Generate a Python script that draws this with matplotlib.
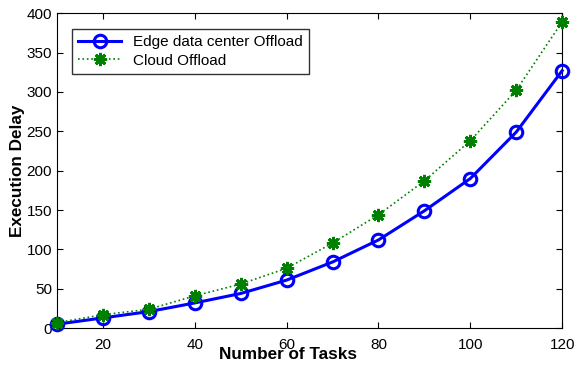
import numpy as np
import matplotlib
matplotlib.use("Agg")
from matplotlib import pyplot as plt

plt.rcParams['font.family'] = ['Liberation Sans', 'DejaVu Sans']

tasks = [10, 20, 30, 40, 50, 60, 70, 80, 90, 100, 110, 120]
edge = [5, 13, 21, 32, 44, 61, 84, 112, 149, 190, 249, 327]
cloud = [7, 17, 24, 41, 56, 76, 108, 144, 187, 238, 302, 389]

fig = plt.figure(figsize=(5.76, 3.65), dpi=100)
ax = fig.add_axes([0.099, 0.101, 0.877, 0.863])

ax.plot(tasks, edge, '-o', color='blue', lw=2.2, ms=9, mfc='none', mew=2.2,
        label='Edge data center Offload', clip_on=False, zorder=3)
ax.plot(tasks, cloud, ':', color='green', lw=1.2, marker=(8, 2, 0), ms=9.5, mew=2,
        label='Cloud Offload', clip_on=False, zorder=4)

ax.set_xlim(10, 120)
ax.set_ylim(0, 400)
ax.set_xticks([20, 40, 60, 80, 100, 120])
ax.set_yticks(np.arange(0, 401, 50))
ax.tick_params(direction='in', top=True, right=True, labelsize=11, length=4)
ax.tick_params(axis='x', pad=7)
ax.set_xlabel('Number of Tasks', fontsize=12.3, fontweight='bold')
ax.xaxis.set_label_coords(0.457, -0.083, transform=ax.transAxes)
ax.xaxis.label.set_va('center')
ax.set_ylabel('Execution Delay', fontsize=12.3, fontweight='bold', labelpad=1)

leg = ax.legend(loc='upper left', fontsize=11, fancybox=False, edgecolor='black',
                bbox_to_anchor=(0.03, 0.95), borderaxespad=0, handlelength=2.8,
                labelspacing=0.3, borderpad=0.4)
leg.get_frame().set_linewidth(1.0)

fig.savefig("out.png", dpi=100)
